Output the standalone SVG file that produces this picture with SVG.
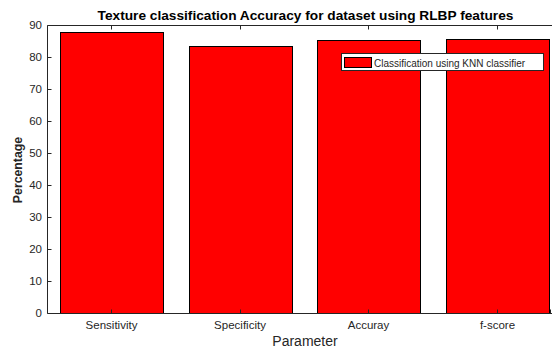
<svg xmlns="http://www.w3.org/2000/svg" width="552" height="351" viewBox="0 0 552 351">
<style>
.bar{fill:#ff0000;stroke:#000;stroke-width:1}
.ax{stroke:#262626;stroke-width:1;fill:none}
.tl{font-family:"Liberation Sans",Arial,sans-serif;font-size:11.5px;fill:#262626}
.yl{text-anchor:end}
.xl{text-anchor:middle}
</style>
<rect x="0" y="0" width="552" height="351" fill="#fff"/>
<g id="plot-bg"><rect x="47.5" y="25.5" width="510" height="288" fill="#fff"/></g>
<g id="bars">
<rect id="bar-sensitivity" class="bar" x="60.5" y="32.5" width="103" height="281"/>
<rect id="bar-specificity" class="bar" x="189.5" y="46.5" width="103" height="267"/>
<rect id="bar-accuracy" class="bar" x="317.5" y="40.5" width="103" height="273"/>
<rect id="bar-fscore" class="bar" x="446.5" y="39.5" width="103" height="274"/>
</g>
<g id="axes">
<path class="ax" d="M47.5 313.5H552M47.5 25.5H552M47.5 25.5V313.5"/>
<path class="ax" d="M111.5 313.5v-4M240.5 313.5v-4M368.5 313.5v-4M497.5 313.5v-4M111.5 25.5v4M240.5 25.5v4M368.5 25.5v4M497.5 25.5v4M550.5 313.5v-4"/>
<path class="ax" d="M47.5 313.5h4M47.5 281.5h4M47.5 249.5h4M47.5 217.5h4M47.5 185.5h4M47.5 153.5h4M47.5 121.5h4M47.5 89.5h4M47.5 57.5h4M47.5 25.5h4"/>
<g class="tl yl">
<text x="42" y="317">0</text>
<text x="42" y="285">10</text>
<text x="42" y="253">20</text>
<text x="42" y="221">30</text>
<text x="42" y="189">40</text>
<text x="42" y="157">50</text>
<text x="42" y="125">60</text>
<text x="42" y="93">70</text>
<text x="42" y="61">80</text>
<text x="42" y="29">90</text>
</g>
<g class="tl xl">
<text x="111.5" y="329">Sensitivity</text>
<text x="240" y="329">Specificity</text>
<text x="368.5" y="329">Accuray</text>
<text x="497.5" y="329">f-score</text>
</g>
</g>
<text id="title" x="305.5" y="20" text-anchor="middle" font-family="'Liberation Sans',Arial,sans-serif" font-size="13.7" font-weight="bold" fill="#000">Texture classification Accuracy for dataset using RLBP features</text>
<text id="xlabel" x="305" y="346" text-anchor="middle" font-family="'Liberation Sans',Arial,sans-serif" font-size="14" fill="#262626">Parameter</text>
<text id="ylabel" transform="translate(22 170) rotate(-90)" text-anchor="middle" font-family="'Liberation Sans',Arial,sans-serif" font-size="12.3" font-weight="bold" fill="#262626">Percentage</text>
<g id="legend">
<rect x="341.5" y="53.5" width="202" height="17" fill="#fff" stroke="#262626" stroke-width="1"/>
<rect class="bar" x="344.5" y="57.5" width="27" height="10"/>
<text x="374" y="66.5" font-family="'Liberation Sans',Arial,sans-serif" font-size="10" fill="#262626">Classification using KNN classifier</text>
</g>
</svg>
